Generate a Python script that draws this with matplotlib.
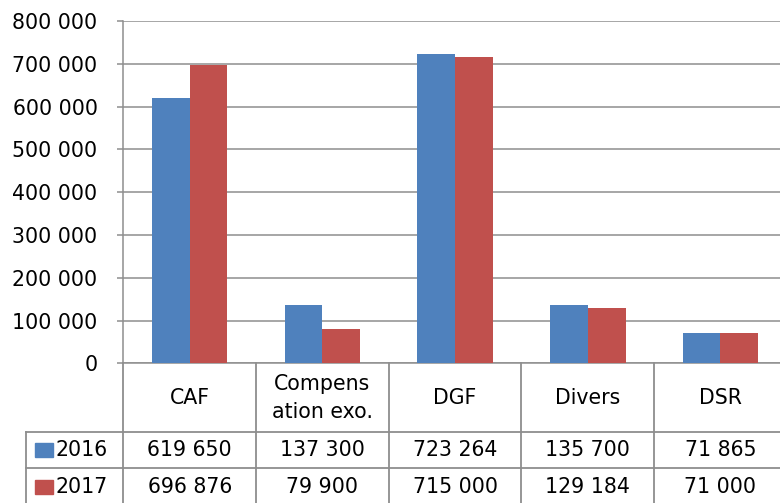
import matplotlib.pyplot as plt
import matplotlib.transforms as mtransforms
import numpy as np

categories = ["CAF", "Compens\nation exo.", "DGF", "Divers", "DSR"]
years = ["2016", "2017"]
values_2016 = [619650, 137300, 723264, 135700, 71865]
values_2017 = [696876, 79900, 715000, 129184, 71000]
y_ticks = [0, 100000, 200000, 300000, 400000, 500000, 600000, 700000, 800000]

BLUE = "#4F81BD"
RED = "#C0504D"
GRID = "#8E8E8E"
FONT = "DejaVu Sans"
FS = 14.8

W, H = 780, 503


def fmt(v):
	return f"{v:,}".replace(",", " ")


def fy(py):
	# figure pixel row -> figure fraction
	return 1 - py / H


fig = plt.figure(figsize=(W / 100, H / 100), dpi=100)
ax_left, ax_top, ax_bottom, cat_w = 123.3, 21.0, 363.4, 132.7
ax = fig.add_axes([ax_left / W, fy(ax_bottom), 5 * cat_w / W, (ax_bottom - ax_top) / H])

x = np.arange(len(categories))
bw = 0.285
ax.bar(x - bw / 2, values_2016, bw, color=BLUE, zorder=3)
ax.bar(x + bw / 2, values_2017, bw, color=RED, zorder=3)

ax.set_xlim(-0.5, len(categories) - 0.5)
ax.set_ylim(0, 800000)
ax.set_yticks(y_ticks)
ax.set_yticklabels([fmt(v) for v in y_ticks], fontsize=FS, family=FONT)
ax.set_xticks([])
ax.tick_params(axis="y", length=4.5, width=1.1, color=GRID, pad=14)
ax.grid(axis="y", color=GRID, linewidth=1.1, zorder=0)
for side in ["top", "right"]:
	ax.spines[side].set_visible(False)
for side in ["left", "bottom"]:
	ax.spines[side].set_color(GRID)
	ax.spines[side].set_linewidth(1.1)

# data table under the axis
tr = mtransforms.blended_transform_factory(ax.transData, fig.transFigure)
row1, row2, row_end = 431.7, 468.3, 505.0
lw = 1.3
for y_px in [row1, row2]:
	fig.add_artist(plt.Line2D([26 / W, 1], [fy(y_px), fy(y_px)], color=GRID, lw=lw))
fig.add_artist(plt.Line2D([26 / W, 26 / W], [fy(row1), fy(row_end)], color=GRID, lw=lw))
for i in range(len(categories) + 1):
	fig.add_artist(plt.Line2D([i - 0.5, i - 0.5], [fy(ax_bottom), fy(row_end)],
		color=GRID, lw=lw, transform=tr))

for i, cat in enumerate(categories):
	fig.text(i, fy((ax_bottom + row1) / 2), cat, transform=tr, ha="center", va="center",
		fontsize=FS, family=FONT, linespacing=1.5)
	fig.text(i, fy((row1 + row2) / 2), fmt(values_2016[i]), transform=tr,
		ha="center", va="center", fontsize=FS, family=FONT)
	fig.text(i, fy((row2 + row_end) / 2), fmt(values_2017[i]), transform=tr,
		ha="center", va="center", fontsize=FS, family=FONT)

for label, color, (top, bot) in zip(years, [BLUE, RED], [(row1, row2), (row2, row_end)]):
	cy = (top + bot) / 2
	fig.add_artist(plt.Rectangle((35 / W, fy(cy + 7)), 17.5 / W, 14 / H, color=color,
		transform=fig.transFigure))
	fig.text(56 / W, fy(cy), label, ha="left", va="center", fontsize=FS, family=FONT)

fig.savefig("out.png", dpi=100)
